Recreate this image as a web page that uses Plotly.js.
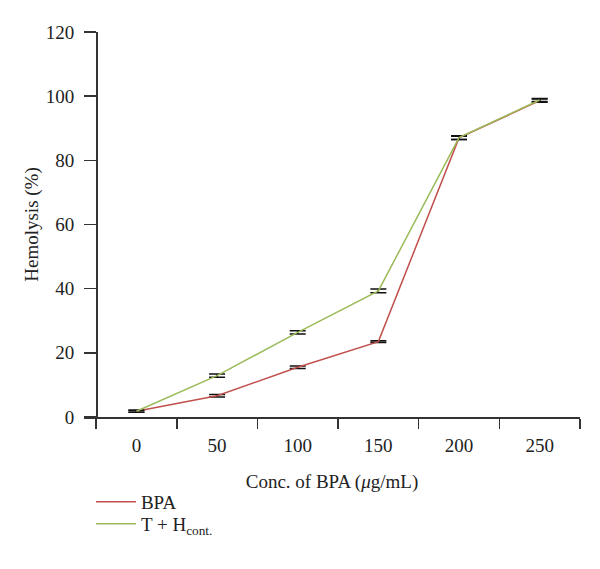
<!DOCTYPE html>
<html>
<head>
<meta charset="utf-8">
<script src="https://cdn.plot.ly/plotly-3.0.1.min.js"></script>
<style>html,body{margin:0;padding:0;background:#fff;}#chart{width:600px;height:569px;}</style>
</head>
<body>
<div id="chart"></div>
<script>
var categories = ["0", "50", "100", "150", "200", "250"];
var bpaValues = [1.8, 6.6, 15.5, 23.5, 87.0, 98.6];
var bpaErrors = [0.3, 0.4, 0.4, 0.3, 0.5, 0.5];
var thValues = [1.8, 12.9, 26.4, 39.3, 87.1, 98.8];
var thErrors = [0.3, 0.5, 0.5, 0.6, 0.6, 0.5];
var yTicks = [0, 20, 40, 60, 80, 100, 120];

var font = "Liberation Serif, Times New Roman, serif";
var fs = 19;

var traces = [
  {
    x: categories, y: bpaValues, name: "BPA", type: "scatter", mode: "lines",
    legend: "legend",
    line: {color: "#c0504d", width: 1.5},
    error_y: {type: "data", array: bpaErrors, visible: true, color: "#111", thickness: 1.5, width: 8}
  },
  {
    x: categories, y: thValues, name: "T + H<sub>cont.</sub>", type: "scatter", mode: "lines",
    legend: "legend2",
    line: {color: "#9bbb59", width: 1.5},
    error_y: {type: "data", array: thErrors, visible: true, color: "#111", thickness: 1.5, width: 8}
  }
];

var legendBase = {xanchor: "left", yanchor: "middle", orientation: "v", itemwidth: 40,
                  bgcolor: "rgba(0,0,0,0)", font: {family: font, size: fs, color: "#222"}};

var layout = {
  width: 600, height: 569,
  margin: {l: 84, r: 20, t: 32, b: 152},
  paper_bgcolor: "#fff", plot_bgcolor: "#fff",
  font: {family: font, size: fs, color: "#222"},
  showlegend: true,
  legend: Object.assign({}, legendBase, {x: 0.014, y: -0.2208}),
  legend2: Object.assign({}, legendBase, {x: 0.014, y: -0.2779}),
  xaxis: {
    type: "category", categoryorder: "array", categoryarray: categories,
    range: [-0.65, 5.5], showgrid: false, zeroline: false,
    showline: true, linecolor: "#333", linewidth: 1.5,
    ticks: "outside", tickson: "boundaries", ticklen: 10, tickwidth: 1.5, tickcolor: "#333",
    ticklabelstandoff: 11,
    tickfont: {family: font, size: fs, color: "#222"},
    title: {text: "Conc. of BPA (<i>μ</i>g/mL)", font: {family: font, size: fs, color: "#222"}, standoff: 19},
    fixedrange: true
  },
  yaxis: {
    range: [0, 120], tickvals: yTicks, showgrid: false, zeroline: false,
    anchor: "free", position: 0.0244,
    showline: true, linecolor: "#333", linewidth: 1.5,
    ticks: "outside", ticklen: 12, tickwidth: 1.5, tickcolor: "#333",
    ticklabelstandoff: 6,
    tickfont: {family: font, size: fs, color: "#222"},
    title: {text: "Hemolysis (%)", font: {family: font, size: fs, color: "#222"}, standoff: 0},
    fixedrange: true
  }
};

Plotly.newPlot("chart", traces, layout, {staticPlot: true, displayModeBar: false});
</script>
</body>
</html>
